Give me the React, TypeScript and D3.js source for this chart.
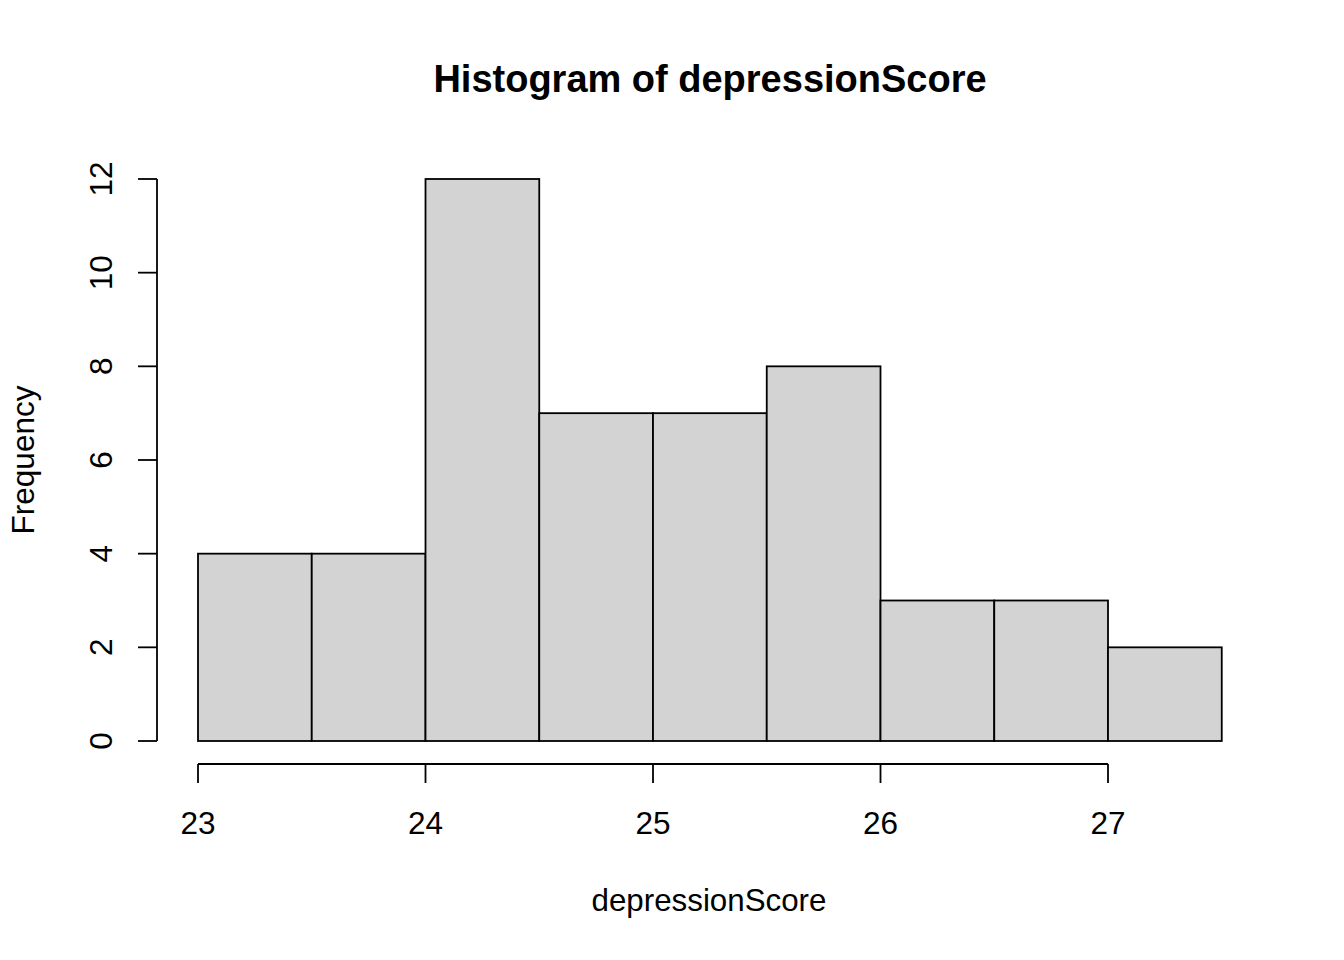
import React from "react";
import * as d3 from "d3";

const binStarts = [23, 23.5, 24, 24.5, 25, 25.5, 26, 26.5, 27];
const binWidth = 0.5;
const counts = [4, 4, 12, 7, 7, 8, 3, 3, 2];
const xTicks = [23, 24, 25, 26, 27];
const yTicks = [0, 2, 4, 6, 8, 10, 12];
const title = "Histogram of depressionScore";
const xLabel = "depressionScore";
const yLabel = "Frequency";

export default function App() {
  const W = 1344, H = 960;
  const x = d3.scaleLinear().domain([23, 27]).range([198, 1108]);
  const y = d3.scaleLinear().domain([0, 12]).range([741, 179]);
  const font = "'Liberation Sans', Arial, sans-serif";
  const axisY = 764;
  const axisX = 157;
  const tick = 19;
  return (
    <svg width={W} height={H} style={{ position: "absolute", left: 0, top: 0, background: "#fff" }}>
      <rect x={0} y={0} width={W} height={H} fill="#fff" />
      {binStarts.map((b, i) => (
        <rect key={i} x={x(b)} y={y(counts[i])} width={x(b + binWidth) - x(b)} height={y(0) - y(counts[i])}
          fill="#D3D3D3" stroke="#000" strokeWidth={1.8} />
      ))}
      {/* x axis */}
      <line x1={x(xTicks[0])} x2={x(xTicks[xTicks.length - 1])} y1={axisY} y2={axisY} stroke="#000" strokeWidth={1.8} />
      {xTicks.map((t) => (
        <g key={t}>
          <line x1={x(t)} x2={x(t)} y1={axisY} y2={axisY + tick} stroke="#000" strokeWidth={1.8} />
          <text x={x(t)} y={834} textAnchor="middle" fontFamily={font} fontSize={31.5}>{t}</text>
        </g>
      ))}
      {/* y axis */}
      <line x1={axisX} x2={axisX} y1={y(0)} y2={y(12)} stroke="#000" strokeWidth={1.8} />
      {yTicks.map((t) => (
        <g key={t}>
          <line x1={axisX - tick} x2={axisX} y1={y(t)} y2={y(t)} stroke="#000" strokeWidth={1.8} />
          <text transform={`translate(112,${y(t)}) rotate(-90)`} textAnchor="middle" fontFamily={font} fontSize={31.5}>{t}</text>
        </g>
      ))}
      <text x={710} y={92} textAnchor="middle" fontFamily={font} fontSize={38} fontWeight="bold">{title}</text>
      <text x={709} y={911} textAnchor="middle" fontFamily={font} fontSize={31.3}>{xLabel}</text>
      <text transform={`translate(34,460) rotate(-90)`} textAnchor="middle" fontFamily={font} fontSize={31.5}>{yLabel}</text>
    </svg>
  );
}
